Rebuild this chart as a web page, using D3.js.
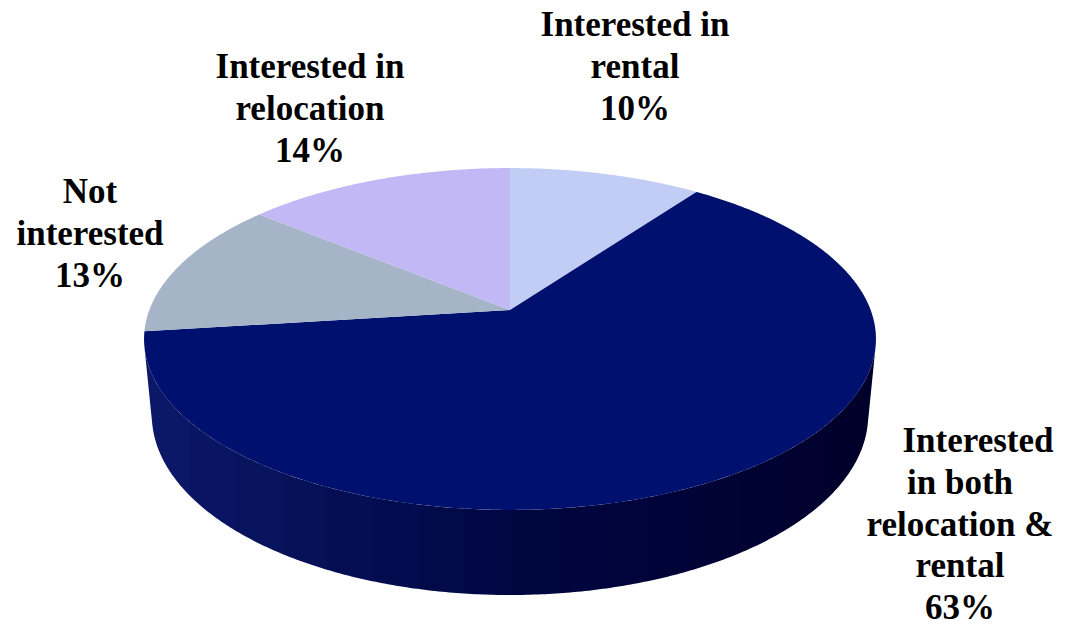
<!DOCTYPE html>
<html><head><meta charset="utf-8"><script src="https://cdn.jsdelivr.net/npm/d3@7"></script></head>
<body style="margin:0;background:#fff">
<svg id="chart" width="1065" height="628" style="display:block"></svg>
<script>
// Survey answers, in drawing order (clockwise from 12 o'clock)
const categories = [
  "Interested in rental",
  "Interested in both relocation & rental",
  "Not interested",
  "Interested in relocation"
];
const values = [10, 63, 13, 14];
// Wrapped category text for each data label (percentage is appended from values)
const labelLines = [
  ["Interested in", "rental"],
  ["Interested", "in both", "relocation &", "rental"],
  ["Not", "interested"],
  ["Interested in", "relocation"]
];
const topColors = ["#c2cdf6", "#00106e", "#a6b4c8", "#c1b8f5"];

const svg = d3.select("#chart");
const defs = svg.append("defs");

// perspective camera looking down on a flat disc (radius 1, thickness h)
const view = {
  cx: 510, cy: 310,      // screen position of the disc centre
  f: 1888,               // focal length in px
  dist: 5.235,           // camera distance in disc radii
  tilt: Math.asin(0.4603),
  h: 0.2395              // disc thickness in radii
};
const sT = Math.sin(view.tilt), cT = Math.cos(view.tilt);

// angle a measured clockwise from the back of the disc, r radius, y height (0 top)
function project(a, r, y) {
  const X = r * Math.sin(a), Z = r * Math.cos(a), Y = y;
  const yc = Y * cT + Z * sT;
  const zc = view.dist - Y * sT + Z * cT;
  return [view.cx + view.f * X / zc, view.cy - view.f * yc / zc];
}

const arcs = d3.pie().sort(null).value(d => d)(values);
const line = d3.line().curve(d3.curveLinearClosed);

// near part of the rim whose outward normal faces the camera
const halfVis = Math.acos(-1 / (view.dist * cT));
const visStart = halfVis, visEnd = 2 * Math.PI - halfVis;

// ---- side wall ----------------------------------------------------------
const sideShade = d3.scaleLinear()
  .domain([0, 0.5, 1])
  .range(["#00002a", "#000641", "#0b196a"])
  .clamp(true);

const sideGroup = svg.append("g");
arcs.forEach((d, i) => {
  const a0 = Math.max(d.startAngle, visStart), a1 = Math.min(d.endAngle, visEnd);
  if (a1 <= a0) return;
  const n = Math.ceil((a1 - a0) / (Math.PI / 360));
  const top = [], bot = [];
  for (let k = 0; k <= n; k++) {
    const a = a0 + (a1 - a0) * k / n;
    top.push(project(a, 1, 0));
    bot.push(project(a, 1, -view.h));
  }
  const pts = top.concat(bot.reverse());

  // horizontal shading, lit from the left, stepped into soft bands
  const xs = d3.extent(pts, p => p[0]);
  const gid = "side" + i;
  const grad = defs.append("linearGradient")
    .attr("id", gid)
    .attr("gradientUnits", "userSpaceOnUse")
    .attr("x1", xs[0]).attr("x2", xs[1]).attr("y1", 0).attr("y2", 0);
  const bands = 16;
  const base = i === 1 ? null : d3.color(topColors[i]).darker(1.2);
  for (let b = 0; b < bands; b++) {
    const t = 1 - (b + 0.5) / bands;
    const col = base ? base.darker(1 - t).formatHex() : sideShade(t);
    grad.append("stop").attr("offset", b / bands).attr("stop-color", col);
    grad.append("stop").attr("offset", (b + 1) / bands).attr("stop-color", col);
  }
  sideGroup.append("path")
    .attr("d", line(pts))
    .attr("fill", `url(#${gid})`);
});

// ---- top faces ------------------------------------------------------------
const topGroup = svg.append("g");
arcs.forEach((d, i) => {
  const n = Math.max(2, Math.ceil((d.endAngle - d.startAngle) / (Math.PI / 360)));
  const pts = [project(0, 0, 0)];
  for (let k = 0; k <= n; k++) {
    const a = d.startAngle + (d.endAngle - d.startAngle) * k / n;
    pts.push(project(a, 1, 0));
  }
  topGroup.append("path")
    .attr("d", line(pts))
    .attr("fill", topColors[i]);
});

// ---- data labels (one text element per wrapped line, centred by measure) --
const labelPos = [
  { x: 635, y: 36, dx: [0, 0, 0] },
  { x: 960, y: 452, dx: [18, 0, 0, 0, 0] },
  { x: 90, y: 203, dx: [0, 0, 0] },
  { x: 310, y: 78, dx: [0, 0, 0] }
];
const lineH = 41.8;
const labelRows = [];
arcs.forEach((d, i) => {
  const lines = labelLines[i].concat([d3.format(".0%")(values[i] / 100)]);
  const p = labelPos[i];
  lines.forEach((s, j) => labelRows.push({ s, x: p.x + (p.dx[j] || 0), y: p.y + j * lineH }));
});

svg.selectAll("text.lbl").data(labelRows).join("text")
  .attr("class", "lbl")
  .attr("x", r => r.x)
  .attr("y", r => r.y)
  .style("font-family", '"Liberation Serif"')
  .style("font-weight", "bold")
  .style("font-size", "35px")
  .text(r => r.s)
  .each(function (r) {
    const w = this.getComputedTextLength();
    d3.select(this).attr("x", r.x - w / 2);
  });
</script>
</body></html>
